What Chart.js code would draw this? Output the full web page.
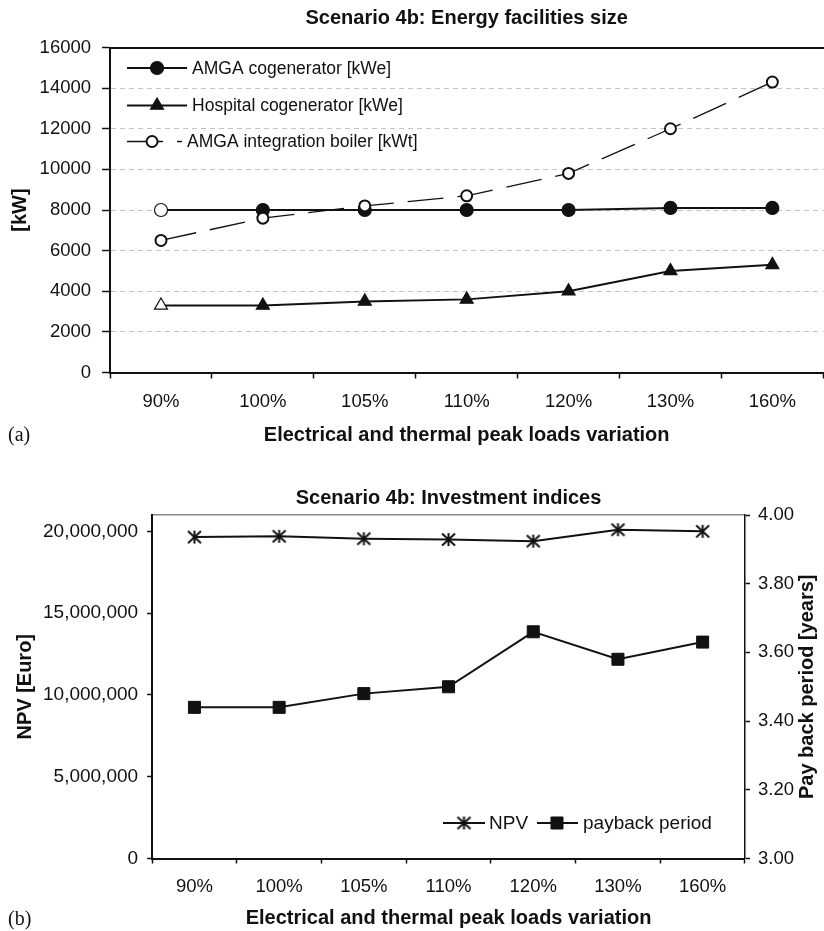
<!DOCTYPE html>
<html>
<head>
<meta charset="utf-8">
<script src="https://cdn.jsdelivr.net/npm/chart.js@4/dist/chart.umd.min.js"></script>
<style>
html,body{margin:0;padding:0;background:#fff;overflow:hidden;width:824px;height:931px;position:relative;}
#wrapA{position:absolute;left:0;top:0;width:824px;height:452px;overflow:hidden;}
#wrapB{position:absolute;left:0;top:452px;width:824px;height:479px;overflow:hidden;}
.tag{position:absolute;font-family:'Liberation Serif','Times New Roman',serif;font-size:20px;color:#111;line-height:24px;}
</style>
</head>
<body>
<div id="wrapA"><canvas id="chartA" width="832" height="452"></canvas></div>
<div id="wrapB"><canvas id="chartB" width="824" height="479"></canvas></div>
<div class="tag" style="left:8px;top:422px;">(a)</div>
<div class="tag" style="left:8px;top:906px;">(b)</div>
<script>
// ---------- data ----------
const categories = ['90%', '100%', '105%', '110%', '120%', '130%', '160%'];
const amgaCogenerator = [8000, 8000, 8000, 8000, 8000, 8100, 8100];
const hospitalCogenerator = [3300, 3300, 3500, 3600, 4000, 5000, 5300];
const amgaIntegrationBoiler = [6500, 7600, 8200, 8700, 9800, 12000, 14300];
const npvEuro = [19650000, 19700000, 19550000, 19500000, 19400000, 20100000, 20000000];
const paybackYears = [3.44, 3.44, 3.48, 3.50, 3.66, 3.58, 3.63];
const kwTicks = [0, 2000, 4000, 6000, 8000, 10000, 12000, 14000, 16000];
const npvTicks = [0, 5000000, 10000000, 15000000, 20000000];
const paybackTicks = [3.00, 3.20, 3.40, 3.60, 3.80, 4.00];

// ---------- styling ----------
const FAMILY = "'Liberation Sans', Arial, Helvetica, sans-serif";
const INK = '#111111';
Chart.defaults.font.family = FAMILY;
Chart.defaults.font.size = 18;
Chart.defaults.color = INK;

function asteriskMarker() {
  const c = document.createElement('canvas');
  c.width = 17; c.height = 17;
  const g = c.getContext('2d');
  g.strokeStyle = INK; g.lineWidth = 2;
  g.beginPath();
  g.moveTo(2, 2.5); g.lineTo(15, 14.5);
  g.moveTo(15, 2.5); g.lineTo(2, 14.5);
  g.moveTo(8.5, 2); g.lineTo(8.5, 15);
  g.stroke();
  return c;
}

function lastColor(v) { return Array.isArray(v) ? v[v.length - 1] : v; }

const inlineLegend = {
  id: 'inlineLegend',
  afterDraw(chart, args, opts) {
    if (!opts || !opts.items) return;
    const ctx = chart.ctx, area = chart.chartArea;
    const ax = opts.anchorX === 'right' ? area.right : area.left;
    const ay = opts.anchorY === 'bottom' ? area.bottom : area.top;
    const n = opts.items.length;
    for (let i = 0; i < n; i++) {
      const it = opts.items[i];
      const ds = chart.data.datasets[it.index];
      const y = ay + it.dy;
      ctx.save();
      ctx.strokeStyle = ds.borderColor;
      ctx.lineWidth = ds.borderWidth;
      ctx.setLineDash(ds.borderDash || []);
      ctx.beginPath(); ctx.moveTo(ax + it.x0, y); ctx.lineTo(ax + it.x1, y); ctx.stroke();
      ctx.setLineDash([]);
      ctx.fillStyle = lastColor(ds.pointBackgroundColor);
      ctx.strokeStyle = lastColor(ds.pointBorderColor);
      ctx.lineWidth = ds.pointBorderWidth;
      Chart.helpers.drawPoint(ctx, {pointStyle: ds.pointStyle, radius: ds.pointRadius, rotation: 0, borderWidth: ds.pointBorderWidth}, ax + it.xm, y);
      ctx.fillStyle = INK;
      ctx.font = opts.textFont;
      ctx.textAlign = 'left'; ctx.textBaseline = 'middle';
      ctx.fillText(ds.label, ax + it.xt, y + 1);
      ctx.restore();
    }
  }
};

const rightTitle = {
  id: 'rightTitle',
  afterDraw(chart, args, opts) {
    if (!opts || !opts.text) return;
    const s = chart.scales[opts.scaleId];
    const area = chart.chartArea;
    const ctx = chart.ctx;
    ctx.save();
    ctx.translate(s.right - opts.offset, (area.top + area.bottom) / 2);
    ctx.rotate(-Math.PI / 2);
    ctx.font = opts.textFont;
    ctx.fillStyle = INK;
    ctx.textAlign = 'center'; ctx.textBaseline = 'middle';
    ctx.fillText(opts.text, 0, 0);
    ctx.restore();
  }
};

const BOLD20 = {size: 20, weight: 'bold', family: FAMILY};
const TICK = {size: 18.5, family: FAMILY};

// ---------- chart (a) ----------
new Chart(document.getElementById('chartA'), {
  type: 'line',
  data: {
    labels: categories,
    datasets: [
      {
        label: 'AMGA cogenerator [kWe]', data: amgaCogenerator, order: 1,
        borderColor: INK, borderWidth: 2, tension: 0,
        pointStyle: 'circle', pointRadius: 6.5, pointBorderWidth: 1.2,
        pointBackgroundColor: amgaCogenerator.map((v, i) => i === 0 ? '#ffffff' : INK),
        pointBorderColor: INK
      },
      {
        label: 'Hospital cogenerator [kWe]', data: hospitalCogenerator, order: 2,
        borderColor: INK, borderWidth: 2, tension: 0,
        pointStyle: 'triangle', pointRadius: 7.5, pointBorderWidth: 1.2,
        pointBackgroundColor: hospitalCogenerator.map((v, i) => i === 0 ? '#ffffff' : INK),
        pointBorderColor: INK
      },
      {
        label: 'AMGA integration boiler [kWt]', data: amgaIntegrationBoiler, order: 0,
        borderColor: INK, borderWidth: 1.3, borderDash: [36, 14], tension: 0,
        pointStyle: 'circle', pointRadius: 5.5, pointBorderWidth: 2,
        pointBackgroundColor: '#ffffff', pointBorderColor: INK
      }
    ]
  },
  options: {
    responsive: false, animation: false, devicePixelRatio: 1,
    events: [],
    layout: {padding: {left: 0, right: 4, top: 0, bottom: 0}},
    plugins: {
      legend: {display: false},
      tooltip: {enabled: false},
      title: {
        display: true, text: 'Scenario 4b: Energy facilities size', fullSize: false,
        font: BOLD20, color: INK, padding: {top: 6, bottom: 17.5}
      },
      inlineLegend: {
        anchorX: 'left', anchorY: 'top', textFont: "17.5px " + FAMILY,
        items: [
          {index: 0, dy: 20.5, x0: 17, x1: 77, xm: 47, xt: 82},
          {index: 1, dy: 58, x0: 17, x1: 77, xm: 47, xt: 82},
          {index: 2, dy: 94, x0: 17, x1: 72, xm: 42, xt: 77}
        ]
      }
    },
    scales: {
      x: {
        type: 'category', offset: true,
        grid: {offset: true, drawOnChartArea: false, drawTicks: true, tickLength: 6, tickColor: INK, tickWidth: 1.5},
        border: {display: true, color: INK, width: 2},
        ticks: {padding: 12, color: INK, maxRotation: 0, autoSkip: false, font: TICK},
        title: {display: true, text: 'Electrical and thermal peak loads variation', font: BOLD20, color: INK, padding: {top: -1.7, bottom: 5}}
      },
      xTop: {
        type: 'category', position: 'top',
        grid: {display: false, drawTicks: false},
        ticks: {display: false},
        border: {display: true, color: INK, width: 2}
      },
      y: {
        min: 0, max: 16000,
        afterBuildTicks: (s) => { s.ticks = kwTicks.map(v => ({value: v})); },
        grid: {
          color: (c) => (c.tick && (c.tick.value === 0 || c.tick.value === 16000)) ? 'rgba(0,0,0,0)' : '#c4c4c4',
          lineWidth: 1, drawTicks: true, tickLength: 8, tickColor: INK, tickWidth: 1.5
        },
        border: {display: true, color: INK, width: 2, dash: [5, 4]},
        ticks: {padding: 11, color: INK, font: TICK, callback: (v) => String(v)},
        title: {display: true, text: '[kW]', font: BOLD20, color: INK, padding: {top: 8, bottom: -3.4}}
      }
    }
  },
  plugins: [inlineLegend]
});

// ---------- chart (b) ----------
const asterisk = asteriskMarker();
new Chart(document.getElementById('chartB'), {
  type: 'line',
  data: {
    labels: categories,
    datasets: [
      {
        label: 'NPV', data: npvEuro, yAxisID: 'y',
        borderColor: INK, borderWidth: 2, tension: 0,
        pointStyle: asterisk, pointRadius: 8, pointBorderWidth: 2,
        pointBackgroundColor: INK, pointBorderColor: INK
      },
      {
        label: 'payback period', data: paybackYears, yAxisID: 'y1',
        borderColor: INK, borderWidth: 2, tension: 0,
        pointStyle: 'rect', pointRadius: 8.5, pointBorderWidth: 1,
        pointBackgroundColor: INK, pointBorderColor: INK
      }
    ]
  },
  options: {
    responsive: false, animation: false, devicePixelRatio: 1,
    events: [],
    layout: {padding: {left: 0, right: 0, top: 0, bottom: 0}},
    plugins: {
      legend: {display: false},
      tooltip: {enabled: false},
      title: {
        display: true, text: 'Scenario 4b: Investment indices', fullSize: false,
        font: BOLD20, color: INK, padding: {top: 34, bottom: 5}
      },
      inlineLegend: {
        anchorX: 'right', anchorY: 'bottom', textFont: "19px " + FAMILY,
        items: [
          {index: 0, dy: -35.5, x0: -302, x1: -260, xm: -281, xt: -256},
          {index: 1, dy: -35.5, x0: -208, x1: -167, xm: -188, xt: -162}
        ]
      },
      rightTitle: {scaleId: 'y1', text: 'Pay back period [years]', offset: 17, textFont: "bold 20px " + FAMILY}
    },
    scales: {
      x: {
        type: 'category', offset: true,
        grid: {offset: true, drawOnChartArea: false, drawTicks: true, tickLength: 5, tickColor: INK, tickWidth: 1.5},
        border: {display: true, color: INK, width: 2},
        ticks: {padding: 12, color: INK, maxRotation: 0, autoSkip: false, font: TICK},
        title: {display: true, text: 'Electrical and thermal peak loads variation', font: BOLD20, color: INK, padding: {top: -3.7, bottom: 1}}
      },
      xTop: {
        type: 'category', position: 'top',
        grid: {display: false, drawTicks: false},
        ticks: {display: false},
        border: {display: true, color: '#8c8c8c', width: 1.5}
      },
      y: {
        position: 'left', min: 0, max: 21000000,
        afterBuildTicks: (s) => { s.ticks = npvTicks.map(v => ({value: v})); },
        grid: {drawOnChartArea: false, drawTicks: true, tickLength: 5, tickColor: INK, tickWidth: 1.5},
        border: {display: true, color: INK, width: 2},
        ticks: {padding: 9, color: INK, font: {size: 19, family: FAMILY}, callback: (v) => Number(v).toLocaleString('en-US')},
        title: {display: true, text: 'NPV [Euro]', font: BOLD20, color: INK, padding: {top: 13, bottom: -3}}
      },
      y1: {
        position: 'right', min: 3, max: 4,
        afterBuildTicks: (s) => { s.ticks = paybackTicks.map(v => ({value: v})); },
        afterFit: (s) => { s.width += 22; },
        grid: {drawOnChartArea: false, drawTicks: true, tickLength: 5, tickColor: INK, tickWidth: 1.5},
        border: {display: true, color: INK, width: 1.5},
        ticks: {padding: 8, color: INK, font: TICK, callback: (v) => Number(v).toFixed(2)}
      }
    }
  },
  plugins: [inlineLegend, rightTitle]
});
</script>
</body>
</html>
